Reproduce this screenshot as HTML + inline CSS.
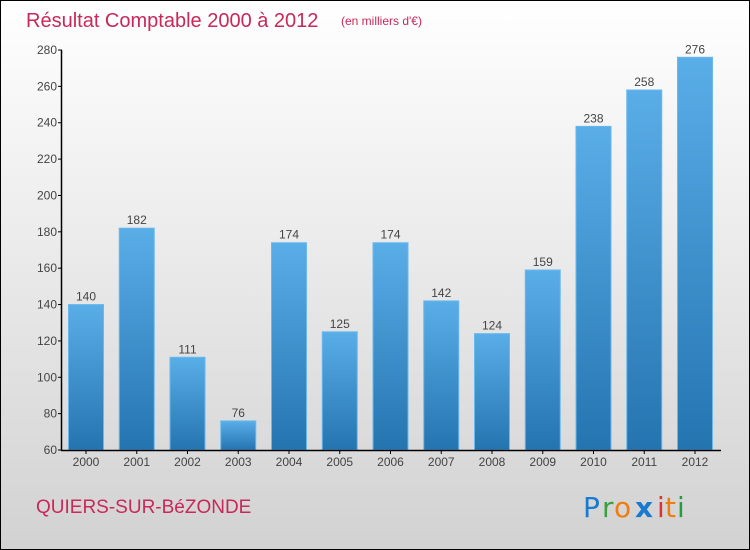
<!DOCTYPE html>
<html><head><meta charset="utf-8"><style>
html,body{margin:0;padding:0}
body{width:750px;height:550px;overflow:hidden;font-family:"Liberation Sans",sans-serif}
#wrap{position:absolute;left:0;top:0;width:748px;height:548px;border:1px solid #000;background:linear-gradient(#ffffff,#d2d2d2)}
</style></head><body>
<div id="wrap">
<svg id="chart" width="750" height="550" style="position:absolute;left:-1px;top:-1px">
<defs>
<linearGradient id="bg" x1="0" y1="0" x2="0" y2="1"><stop offset="0" stop-color="#5aaee8"/><stop offset="1" stop-color="#2474b0"/></linearGradient>
</defs>
<text x="26" y="27" font-size="20" fill="#c8285a" font-family="Liberation Sans,sans-serif">Résultat Comptable 2000 à 2012</text>
<text x="341" y="25" font-size="12" fill="#c8285a" font-family="Liberation Sans,sans-serif">(en milliers d'€)</text>
<g id="bars"></g>
<g id="axes"></g>
<text x="36" y="513" font-size="19" fill="#c8285a" font-family="Liberation Sans,sans-serif">QUIERS-SUR-BéZONDE</text>
<g font-size="28" font-family="DejaVu Sans,sans-serif">
<text x="583" y="517" fill="#1a7ad0">P</text><text x="602" y="517" fill="#3aa040">r</text><text x="614" y="517" fill="#f07d10">o</text><text x="635" y="517" fill="#1a7ad0" font-weight="bold">x</text><text x="657" y="517" fill="#e03030">i</text><text x="665" y="517" fill="#f07d10">t</text><text x="677" y="517" fill="#2a9a40">i</text>
</g>
</svg>
</div>
<script>
const years=["2000","2001","2002","2003","2004","2005","2006","2007","2008","2009","2010","2011","2012"];
const values=[140,182,111,76,174,125,174,142,124,159,238,258,276];
const yTicks=[60,80,100,120,140,160,180,200,220,240,260,280];
const NS="http://www.w3.org/2000/svg";
const y0=450,y1=50,vmin=60,vmax=280;
function yS(v){return y0-(v-vmin)/(vmax-vmin)*(y0-y1);}
function xC(i){return 86+i*50.75;}
const bw=35;
const bars=document.getElementById('bars'),axes=document.getElementById('axes');
function mk(t,a,p){const e=document.createElementNS(NS,t);for(const k in a)e.setAttribute(k,a[k]);p.appendChild(e);return e;}
values.forEach((v,i)=>{
 const r=mk('rect',{x:xC(i)-bw/2,y:yS(v),width:bw,height:y0-yS(v),fill:'url(#bg)',stroke:'#6ab8ee','stroke-width':1},bars);
 
 
 const t=mk('text',{x:xC(i),y:yS(v)-4,'text-anchor':'middle','font-size':12,fill:'#444'},bars);
 t.textContent=v;
 
 
 const xl=mk('text',{x:xC(i),y:466,'text-anchor':'middle','font-size':12,fill:'#444'},axes);
 xl.textContent=years[i];
 
 
 mk('line',{x1:xC(i),x2:xC(i),y1:450,y2:454,stroke:'#000'},axes);
});
yTicks.forEach(v=>{
 const y=yS(v);
 mk('line',{x1:58,x2:62,y1:y,y2:y,stroke:'#000'},axes);
 const t=mk('text',{x:57,y:y+4,'text-anchor':'end','font-size':12,fill:'#444'},axes);
 t.textContent=v;
 
 
});
const ya=mk('line',{x1:61.5,x2:61.5,y1:50,y2:450.5,stroke:'#000','stroke-width':1.5},axes);


const xa=mk('line',{x1:61,x2:721,y1:450.5,y2:450.5,stroke:'#000','stroke-width':1.5},axes);


</script>
</body></html>
